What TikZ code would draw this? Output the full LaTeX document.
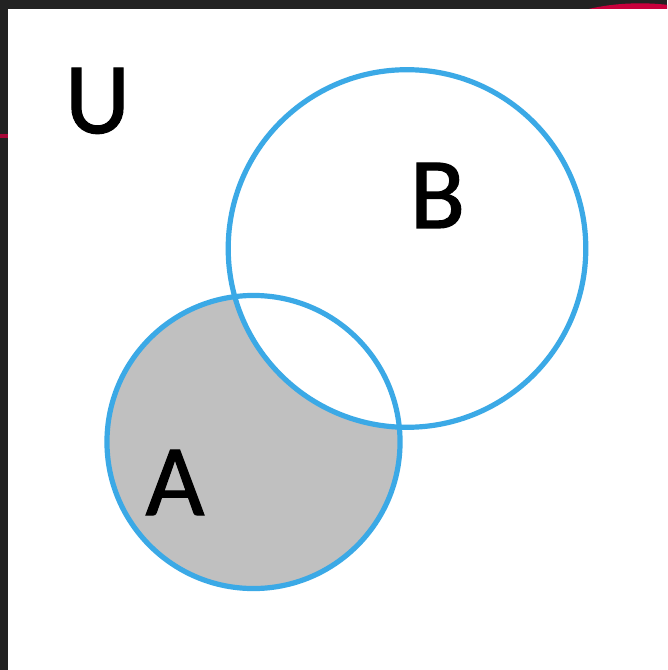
\documentclass[tikz,border=0pt]{standalone}
\usepackage{fontspec}
\setmainfont{Carlito}
\newfontfamily\setfont{Carlito}[FakeBold=1.2]
\definecolor{vennblue}{HTML}{3BA9E6}
\definecolor{venngray}{HTML}{C0C0C0}
\definecolor{framedark}{HTML}{222222}
\definecolor{swoosh}{HTML}{C8003C}
\begin{document}
\begin{tikzpicture}[x=0.75pt,y=-0.75pt,
  setlabel/.style={font=\setfont\fontsize{76}{80}\selectfont, text=black, anchor=base, inner sep=0pt},
  ring/.style={draw=vennblue, line width=3.9pt}]
\useasboundingbox (0,0) rectangle (667,670);
\fill[framedark] (0,0) rectangle (667,670);
\fill[white] (8,9) rectangle (667,670);
% pink swoosh bits of the cropped frame
\begin{scope}
\clip (540,0) rectangle (667,9);
\fill[swoosh] (640,38) ellipse [x radius=70pt, y radius=26pt];
\end{scope}
\fill[swoosh!80!framedark] (0,134) rectangle (8,138);
% sets
\coordinate (cA) at (253.5,442);
\coordinate (cB) at (407,248.5);
\fill[venngray] (cA) circle [radius=109.9pt];
\fill[white] (cB) circle [radius=134.1pt];
\draw[ring] (cA) circle [radius=109.9pt];
\draw[ring] (cB) circle [radius=134.1pt];
\node[setlabel] (U) at (97.5,133) {U};
\node[setlabel] (B) at (437.5,228) {B};
\node[setlabel] (A) at (175,515) {A};
\end{tikzpicture}
\end{document}
